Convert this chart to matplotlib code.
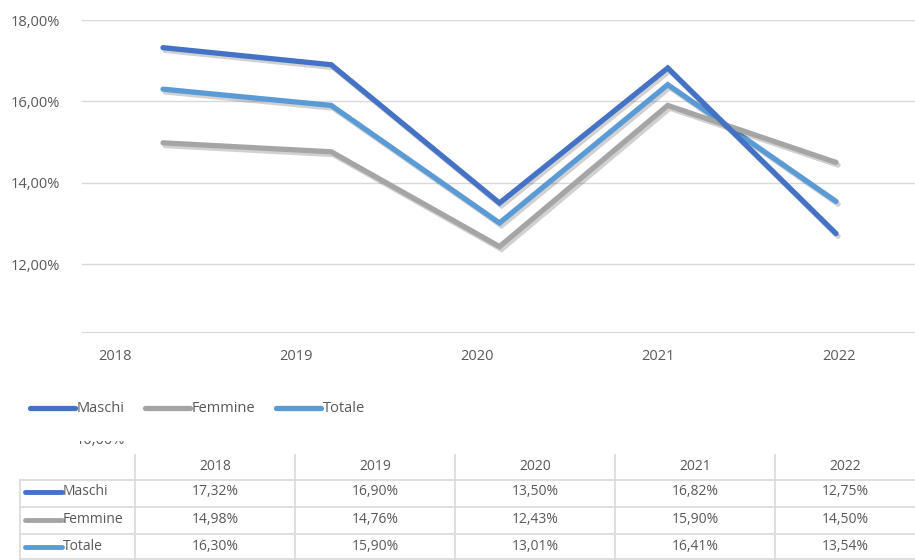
import numpy as np
import matplotlib.pyplot as plt
import matplotlib.patheffects as pe

years = ['2018', '2019', '2020', '2021', '2022']
maschi = [17.32, 16.90, 13.50, 16.82, 12.75]
femmine = [14.98, 14.76, 12.43, 15.90, 14.50]
totale = [16.30, 15.90, 13.01, 16.41, 13.54]

series = [('Maschi', maschi, '#4472C4'),
          ('Femmine', femmine, '#A5A5A5'),
          ('Totale', totale, '#5B9BD5')]

W, H = 915, 560
txt_col = '#595959'
grid_col = '#D9D9D9'
fname = 'Open Sans'


def fmt(v):
    return f'{v:.2f}%'.replace('.', ',')


fig = plt.figure(figsize=(W / 100, H / 100), dpi=100)

# main chart, placed in pixel terms
left, right, top, bottom = 82, 915, 20, 332
ax = fig.add_axes([left / W, 1 - bottom / H, (right - left) / W, (bottom - top) / H])
x = np.arange(len(years))
p0, step = 163, 168.25  # pixel of first point, pixel spacing
ax.set_xlim(-(p0 - left) / step, (right - p0) / step)
ax.set_ylim(10.33, 18)

shadow = [pe.SimpleLineShadow(offset=(1.5, -2), shadow_color='#000000', alpha=0.18),
          pe.Normal()]
for name, vals, col in series[::-1]:
    ax.plot(x, vals, color=col, lw=3.8, solid_capstyle='round',
            solid_joinstyle='miter', path_effects=shadow, zorder=3)

ax.set_yticks([12, 14, 16, 18])
ax.set_yticklabels([fmt(v) for v in [12, 14, 16, 18]], fontsize=10.5,
                   color=txt_col, fontfamily=fname)
ax.grid(axis='y', color=grid_col, lw=1)
ax.tick_params(axis='both', length=0)
ax.tick_params(axis='y', pad=16)
for s in ['top', 'left', 'right']:
    ax.spines[s].set_visible(False)
ax.spines['bottom'].set_color(grid_col)

# category labels sit a bit off the points in the source image
lab_px = 115 + 181 * x
ax.set_xticks((lab_px - p0) / step)
ax.set_xticklabels(years, fontsize=10.5, color=txt_col, fontfamily=fname)
ax.tick_params(axis='x', pad=12)

# legend
for i, (name, vals, col) in enumerate(series):
    x0 = [30, 145, 276][i]
    fig.add_artist(plt.Line2D([x0 / W, (x0 + 45) / W], [1 - 408 / H] * 2,
                              color=col, lw=3.8, solid_capstyle='round'))
    fig.text((x0 + 47) / W, 1 - 408 / H, name, fontsize=10.5, color=txt_col,
             fontfamily=fname, va='center', ha='left')

# data table (top edge cuts through a stray axis label, as in the source)
ttop = 441
tax = fig.add_axes([0, 0, 1, 1 - ttop / H])
tax.set_xlim(0, W)
tax.set_ylim(H, ttop)
tax.axis('off')
col_edges = [20, 135, 295, 455, 615, 775, 915]
row_edges = [455, 480, 507, 534, 560]
tax.text(100, 441, fmt(10), ha='center', va='center', fontsize=10.5,
         color=txt_col, fontfamily=fname, clip_on=True)
for xe in col_edges[1:-1]:
    tax.plot([xe, xe], [row_edges[0], H], color=grid_col, lw=1.2)
tax.plot([col_edges[0]] * 2, [row_edges[1], H], color=grid_col, lw=1.2)
for ye in row_edges[1:-1]:
    tax.plot([col_edges[0], W], [ye, ye], color=grid_col, lw=1.2)
tax.plot([col_edges[0], W], [H - 1, H - 1], color=grid_col, lw=1.2)

centers = [(col_edges[j + 1] + col_edges[j + 2]) / 2 for j in range(len(years))]
for j, yr in enumerate(years):
    tax.text(centers[j], 467, yr, ha='center', va='center', fontsize=10,
             color=txt_col, fontfamily=fname)
for i, (name, vals, col) in enumerate(series):
    yc = [492, 520, 547][i]
    tax.plot([25, 62], [yc, yc], color=col, lw=3.5, solid_capstyle='round')
    tax.text(63, yc, name, ha='left', va='center', fontsize=10, color=txt_col,
             fontfamily=fname)
    for j, v in enumerate(vals):
        tax.text(centers[j], yc, fmt(v), ha='center', va='center', fontsize=10,
                 color=txt_col, fontfamily=fname)

fig.savefig('out.png', dpi=100, facecolor='white')
